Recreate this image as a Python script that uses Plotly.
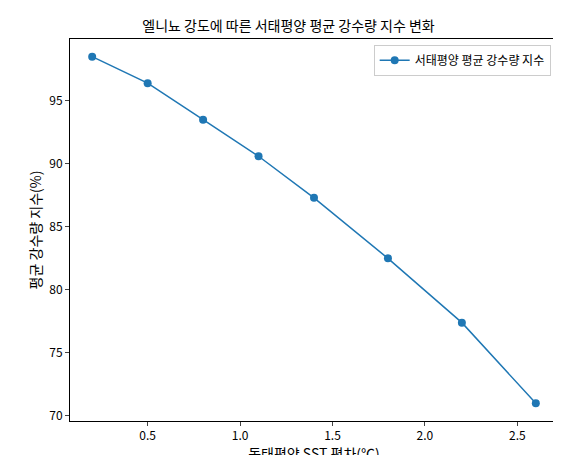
import plotly.graph_objects as go

sst_anomaly = [0.2, 0.5, 0.8, 1.1, 1.4, 1.8, 2.2, 2.6]
rain_index = [98.5, 96.4, 93.5, 90.6, 87.3, 82.5, 77.4, 71.0]
series_name = "서태평양 평균 강수량 지수"

fig = go.Figure()
fig.add_trace(go.Scatter(x=sst_anomaly, y=rain_index, mode="lines+markers", name=series_name,
                         line=dict(color="#1f77b4", width=1.5),
                         marker=dict(color="#1f77b4", size=8)))
fig.update_layout(
    width=561, height=455,
    margin=dict(l=62, r=11, t=31, b=42, autoexpand=False),
    paper_bgcolor="white", plot_bgcolor="white",
    font=dict(family="Noto Sans CJK KR", size=12, color="black"),
    title=dict(text="엘니뇨 강도에 따른 서태평양 평균 강수량 지수 변화", x=0.5, xanchor="center",
               y=1 - 18 / 455, yanchor="middle", font=dict(size=14)),
    showlegend=True,
    legend=dict(x=0.985, y=0.985, xanchor="right", yanchor="top", bordercolor="#cccccc", borderwidth=1,
                bgcolor="rgba(255,255,255,0.8)", font=dict(size=12)),
)
axis = dict(showline=True, linecolor="black", linewidth=1, mirror=True, ticks="outside", ticklen=4,
            showgrid=False, zeroline=False, automargin=False)
fig.update_xaxes(title=dict(text="동태평양 SST 편차(℃)", standoff=4), range=[0.08, 2.72],
                 tickvals=[0.5, 1.0, 1.5, 2.0, 2.5], ticktext=["0.5", "1.0", "1.5", "2.0", "2.5"], **axis)
fig.update_yaxes(title=dict(text="평균 강수량 지수(%)", standoff=4), range=[69.6, 99.9],
                 tickvals=[70, 75, 80, 85, 90, 95], **axis)
fig.write_html("out.html")
